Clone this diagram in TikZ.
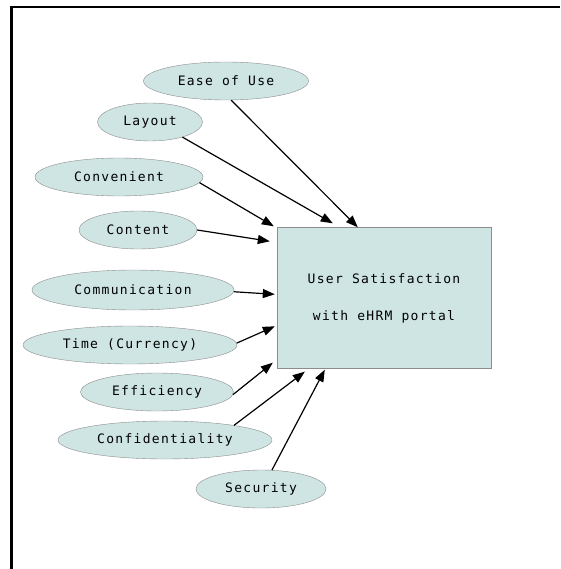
\documentclass[tikz,border=0pt]{standalone}
\usepackage{fontspec}
\newfontfamily\pixfont[LetterSpace=10]{DejaVu Sans Mono}
\usetikzlibrary{shapes.geometric, arrows.meta, calc}
\definecolor{factorfill}{RGB}{206,229,227}
\definecolor{factordraw}{RGB}{140,140,140}

\begin{document}
\begin{tikzpicture}[x=1pt, y=-1pt,
    factor/.style={ellipse, inner sep=0pt, minimum height=38pt, text centered, draw=factordraw, fill=factorfill, font=\pixfont\fontsize{13}{16}\selectfont},
    outcome/.style={rectangle, minimum width=214pt, minimum height=141pt, align=center, draw=factordraw, fill=factorfill, font=\pixfont\fontsize{13}{37}\selectfont},
    arrow/.style={line width=1.2pt, -{Triangle[length=12pt,width=9pt]}},
]
\useasboundingbox (0,0) rectangle (560,569);

% Frame
\draw[line width=2pt] (10,7) -- (560,7);
\draw[line width=3pt] (11,6) -- (11,569);

% Nodes
\node[outcome] (box) at (384,298) {User Satisfaction\\with eHRM portal};
\node[factor, minimum width=165pt] (ease) at (226,81) {Ease of Use};
\node[factor, minimum width=105pt] (layout) at (150,122) {Layout};
\node[factor, minimum width=168pt] (convenient) at (119,177) {Convenient};
\node[factor, minimum width=118pt] (content) at (138,230) {Content};
\node[factor, minimum width=202pt, minimum height=40pt] (communication) at (133,290) {Communication};
\node[factor, minimum width=214pt] (time) at (130,345) {Time (Currency)};
\node[factor, minimum width=153pt] (efficiency) at (157,392) {Efficiency};
\node[factor, minimum width=214pt] (confidentiality) at (165,440) {Confidentiality};
\node[factor, minimum width=130pt] (security) at (261,489) {Security};

% Arrow ends around the box
\coordinate (tEase) at ($(box.north west)+(81,0)$);
\coordinate (tLayout) at ($(box.north west)+(56,-4)$);
\coordinate (tConvenient) at ($(box.north west)+(-3,-1)$);
\coordinate (tContent) at ($(box.north west)+(-7,14)$);
\coordinate (tCommunication) at ($(box.north west)+(-2,67)$);
\coordinate (tTime) at ($(box.north west)+(-2,99)$);
\coordinate (tEfficiency) at ($(box.south west)+(-4,-6)$);
\coordinate (tConfidentiality) at ($(box.south west)+(28,3)$);
\coordinate (tSecurity) at ($(box.south west)+(48,1)$);

% Connections
\foreach \f/\a/\t in {ease/-75/tEase, layout/-25/tLayout, convenient/-4/tConvenient, content/0/tContent, communication/-1/tCommunication, time/1/tTime, efficiency/-2/tEfficiency, confidentiality/12/tConfidentiality, security/60/tSecurity}
  \draw[arrow] (\f.\a) -- (\t);

\end{tikzpicture}
\end{document}
